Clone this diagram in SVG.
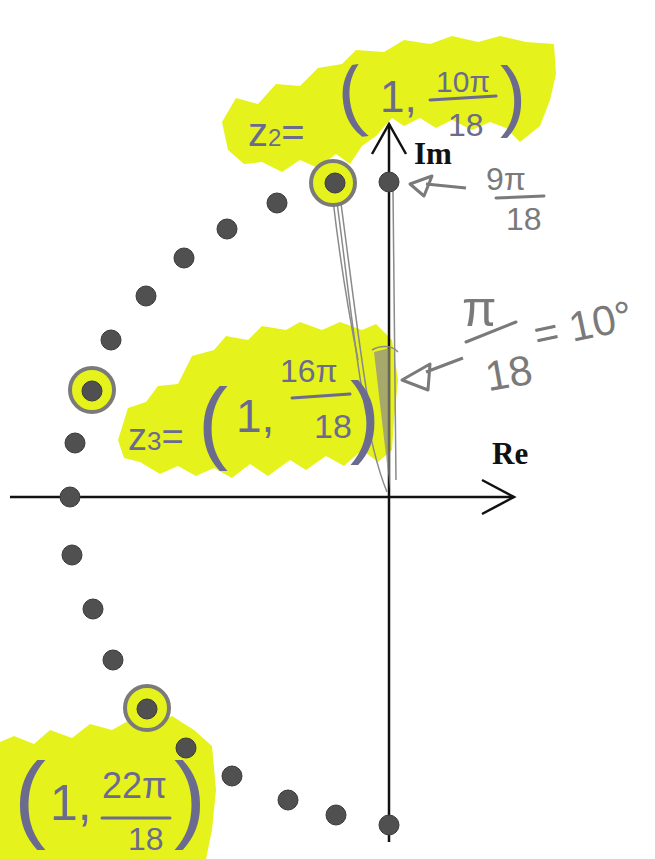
<svg xmlns="http://www.w3.org/2000/svg" width="655" height="859" viewBox="0 0 655 859">
<defs>
<style>
.hl{fill:#e6f21c}
.dot{fill:#505050;stroke:#3a3a3a;stroke-width:1}
.ring{fill:#e6f21c;stroke:#7a7a7a;stroke-width:4}
.axis{stroke:#111;stroke-width:2.5;fill:none}
.pen{font-family:"Liberation Sans",Arial,sans-serif;fill:#6b6b8f}
.pencil{font-family:"Liberation Sans",Arial,sans-serif;fill:#7a7a7a}
.bar{stroke:#6b6b8f;stroke-width:3;fill:none;stroke-linecap:round}
.pbar{stroke:#7a7a7a;stroke-width:3;fill:none;stroke-linecap:round}
.lbl{font-family:"Liberation Serif","Times New Roman",serif;font-weight:bold;font-size:31px;fill:#111}
.sketch{stroke:#8a8a8a;stroke-width:1.5;fill:none}
</style>
</defs>

<g id="highlights">
<polygon class="hl" points="222,122 236,98 258,104 276,84 300,86 318,68 342,64 356,50 384,52 404,40 430,44 452,36 478,42 500,36 526,42 554,44 556,74 550,100 540,126 520,142 506,128 490,122 472,130 452,120 436,128 420,118 404,126 392,118 376,136 362,146 350,164 336,154 318,168 300,160 282,172 262,162 244,164 228,150"/>
<polygon class="hl" points="118,440 128,408 146,402 158,386 178,384 192,356 214,350 226,336 248,340 262,326 286,330 300,322 322,330 340,322 362,330 376,324 392,340 398,380 394,420 392,450 378,462 362,450 344,466 326,456 306,470 290,460 268,476 250,464 232,478 214,468 196,476 178,466 160,474 140,462 124,458"/>
<polygon class="hl" points="0,742 14,736 34,744 50,730 72,738 90,724 112,730 130,720 152,726 172,716 194,730 212,746 216,790 212,830 206,859 0,859"/>
</g>

<g id="connectors">
<line class="axis" x1="10" y1="497" x2="514" y2="497"/>
<polyline class="axis" points="482,480 514,497 482,514"/>
<line class="axis" x1="389" y1="842" x2="389" y2="124"/>
<polyline class="axis" points="372,154 389,124 406,154"/>
<path class="sketch" d="M336,195 C345,260 352,330 362,390 C370,440 380,475 387,492"/>
<path class="sketch" d="M340,196 C350,270 358,340 368,400"/>
<path class="sketch" d="M333,200 C340,260 350,320 358,360"/>
<path d="M374,352 L390,348 L390,490 Z" fill="#8a8a8a" opacity="0.7"/>
<path class="sketch" d="M372,350 C380,345 392,345 398,352"/>
<path class="sketch" d="M393,190 L396,480"/>
<path d="M410,184 L432,176 L424,196 Z M426,184 L466,188" stroke="#7a7a7a" stroke-width="3" fill="none" stroke-linejoin="round"/>
<path d="M402,380 L430,364 L428,390 Z M426,372 L463,358" stroke="#7a7a7a" stroke-width="3" fill="none" stroke-linejoin="round"/>
</g>

<g id="z2-point">
<circle class="ring" cx="333" cy="183" r="22"/>
<circle class="dot" cx="335" cy="183" r="10"/>
</g>
<g id="z3-point">
<circle class="ring" cx="92" cy="390" r="22"/>
<circle class="dot" cx="92" cy="391" r="10"/>
</g>
<g id="z4-point">
<circle class="ring" cx="147" cy="708" r="22"/>
<circle class="dot" cx="147" cy="709" r="10"/>
</g>

<g id="dots">
<circle class="dot" cx="389" cy="182" r="10"/>
<circle class="dot" cx="277" cy="203" r="10"/>
<circle class="dot" cx="227" cy="229" r="10"/>
<circle class="dot" cx="184" cy="258" r="10"/>
<circle class="dot" cx="146" cy="296" r="10"/>
<circle class="dot" cx="111" cy="340" r="10"/>
<circle class="dot" cx="75" cy="443" r="10"/>
<circle class="dot" cx="70" cy="497" r="10"/>
<circle class="dot" cx="72" cy="555" r="10"/>
<circle class="dot" cx="93" cy="609" r="10"/>
<circle class="dot" cx="113" cy="660" r="10"/>
<circle class="dot" cx="186" cy="748" r="10"/>
<circle class="dot" cx="232" cy="776" r="10"/>
<circle class="dot" cx="288" cy="800" r="10"/>
<circle class="dot" cx="336" cy="815" r="10"/>
<circle class="dot" cx="389" cy="825" r="10"/>
</g>

<g id="label-im"><text class="lbl" x="414" y="164">Im</text></g>
<g id="label-re"><text class="lbl" x="492" y="464">Re</text></g>

<g id="label-z2">
<text class="pen" x="248" y="146" font-size="40">z<tspan font-size="24">2</tspan>=</text>
<text class="pen" x="338" y="122" font-size="78" transform="rotate(-8 350 100)">(</text>
<text class="pen" x="380" y="112" font-size="44">1,</text>
<text class="pen" x="436" y="92" font-size="30">10π</text>
<line class="bar" x1="430" y1="100" x2="496" y2="96"/>
<text class="pen" x="448" y="136" font-size="32">18</text>
<text class="pen" x="500" y="122" font-size="78">)</text>
</g>

<g id="label-9pi">
<text class="pencil" x="486" y="190" font-size="32">9π</text>
<line class="pbar" x1="496" y1="198" x2="544" y2="196"/>
<text class="pencil" x="506" y="230" font-size="32">18</text>
</g>

<g id="label-pi18">
<text class="pencil" x="462" y="326" font-size="50">π</text>
<line class="pbar" x1="466" y1="342" x2="516" y2="322"/>
<text class="pencil" x="484" y="388" font-size="42" transform="rotate(-10 505 365)">18</text>
<text class="pencil" x="532" y="340" font-size="42" transform="rotate(-12 580 320)">= 10°</text>
</g>

<g id="label-z3">
<text class="pen" x="128" y="450" font-size="38">z<tspan font-size="26">3</tspan>=</text>
<text class="pen" x="198" y="452" font-size="90">(</text>
<text class="pen" x="236" y="432" font-size="46">1,</text>
<text class="pen" x="280" y="382" font-size="32">16π</text>
<line class="bar" x1="292" y1="398" x2="350" y2="394"/>
<text class="pen" x="314" y="438" font-size="34">18</text>
<text class="pen" x="350" y="446" font-size="90">)</text>
</g>

<g id="label-z4">
<text class="pen" x="14" y="830" font-size="96">(</text>
<text class="pen" x="50" y="820" font-size="50">1,</text>
<text class="pen" x="102" y="798" font-size="36">22π</text>
<line class="bar" x1="102" y1="818" x2="170" y2="818"/>
<text class="pen" x="128" y="850" font-size="32">18</text>
<text class="pen" x="174" y="830" font-size="96">)</text>
</g>
</svg>
